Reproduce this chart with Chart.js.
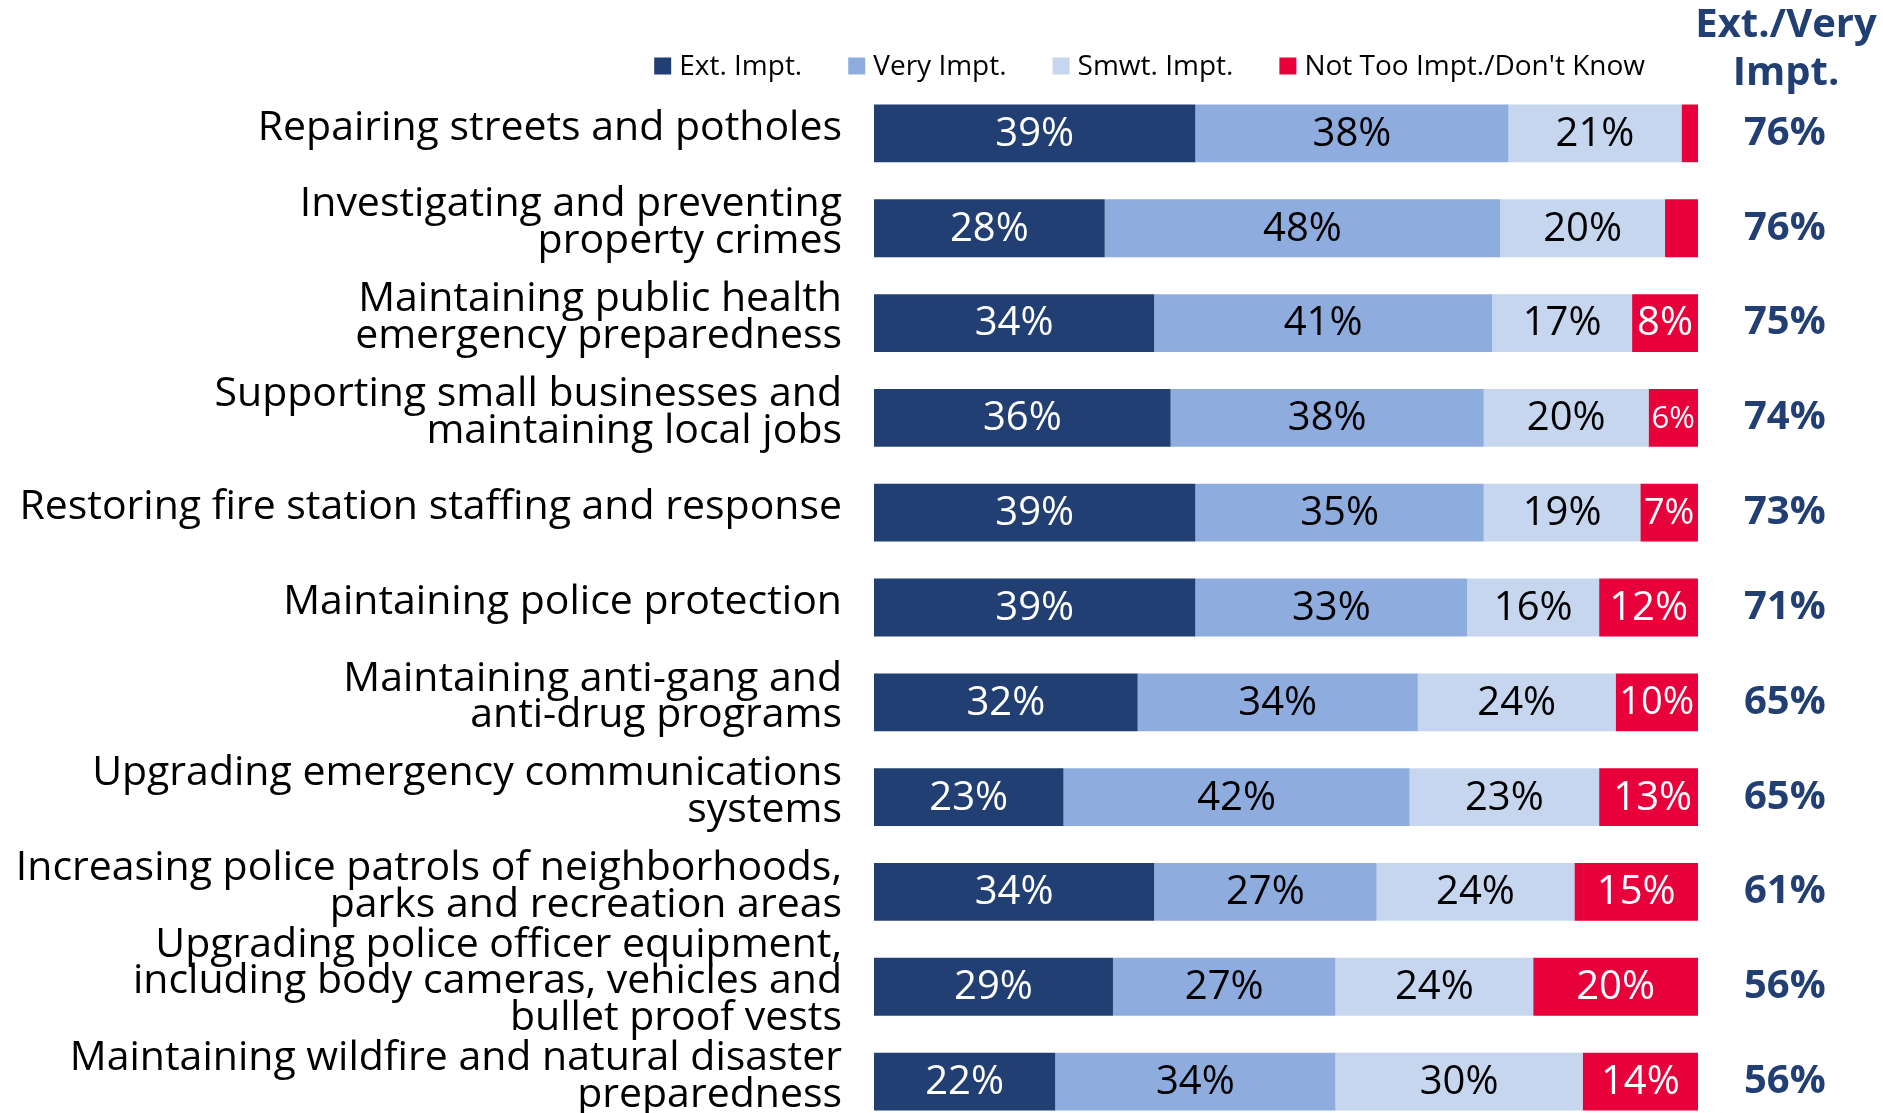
<!DOCTYPE html>
<html>
<head>
<meta charset="utf-8">
<script src="https://cdn.jsdelivr.net/npm/chart.js@4"></script>
<style>
  html, body { margin: 0; padding: 0; background: #fff; overflow: hidden; }
  #chartContainer { position: relative; width: 1883px; height: 1130px; }
</style>
</head>
<body>
<div id="chartContainer"><canvas id="myChart"></canvas></div>
<script>
const categories = [
  ['Repairing streets and potholes'],
  ['Investigating and preventing', 'property crimes'],
  ['Maintaining public health', 'emergency preparedness'],
  ['Supporting small businesses and', 'maintaining local jobs'],
  ['Restoring fire station staffing and response'],
  ['Maintaining police protection'],
  ['Maintaining anti-gang and', 'anti-drug programs'],
  ['Upgrading emergency communications', 'systems'],
  ['Increasing police patrols of neighborhoods,', 'parks and recreation areas'],
  ['Upgrading police officer equipment,', 'including body cameras, vehicles and', 'bullet proof vests'],
  ['Maintaining wildfire and natural disaster', 'preparedness']
];
const seriesNames = ['Ext. Impt.', 'Very Impt.', 'Smwt. Impt.', "Not Too Impt./Don't Know"];
const extImpt = [39, 28, 34, 36, 39, 39, 32, 23, 34, 29, 22];
const veryImpt = [38, 48, 41, 38, 35, 33, 34, 42, 27, 27, 34];
const smwtImpt = [21, 20, 17, 20, 19, 16, 24, 23, 24, 24, 30];
const notTooImpt = [2, 4, 8, 6, 7, 12, 10, 13, 15, 20, 14];
const extVeryTotals = [76, 76, 75, 74, 73, 71, 65, 65, 61, 56, 56];
const totalsHeader = ['Ext./Very', 'Impt.'];

const colors = ['#213F73', '#8FACDF', '#C6D6EF', '#E8003A'];
const labelColors = ['#ffffff', '#000000', '#000000', '#ffffff'];
const FONT = '"Open Sans", "Liberation Sans", sans-serif';

Chart.defaults.font.family = FONT;

const ctx = document.getElementById('myChart');

// percent labels inside the bars, legend and the right-hand header
const overlayPlugin = {
  id: 'overlay',
  afterDatasetsDraw(chart) {
    const c = chart.ctx;
    c.save();
    c.textAlign = 'center';
    c.textBaseline = 'middle';
    chart.data.datasets.forEach((ds, di) => {
      const meta = chart.getDatasetMeta(di);
      meta.data.forEach((bar, i) => {
        const v = ds.data[i];
        if (v < 5) return;
        const text = v + '%';
        const w = Math.abs(bar.x - bar.base);
        let size = 40;
        c.font = size + 'px ' + FONT;
        const tw = c.measureText(text).width;
        if (tw > w - 6) size = Math.floor(size * (w - 6) / tw);
        c.font = size + 'px ' + FONT;
        c.fillStyle = labelColors[di];
        c.fillText(text, (bar.x + bar.base) / 2, bar.y + 1);
      });
    });

    // header over the totals column
    c.fillStyle = colors[0];
    c.font = 'bold 40px ' + FONT;
    c.fillText(totalsHeader[0], 1786, 26);
    c.fillText(totalsHeader[1], 1786, 74);

    // legend, right aligned
    c.font = '28px ' + FONT;
    c.textAlign = 'left';
    const box = 17, gapBox = 8, gapItem = 46;
    let x = 1645;
    const positions = [];
    for (let i = seriesNames.length - 1; i >= 0; i--) {
      const tw = c.measureText(seriesNames[i]).width;
      x -= tw;
      positions[i] = x;
      x -= gapBox + box + gapItem;
    }
    seriesNames.forEach((name, i) => {
      const tx = positions[i];
      c.fillStyle = colors[i];
      c.fillRect(tx - gapBox - box, 66 - box / 2, box, box);
      c.fillStyle = '#000';
      c.fillText(name, tx, 67);
    });
    c.restore();
  }
};

new Chart(ctx, {
  type: 'bar',
  data: {
    labels: categories,
    datasets: [
      { label: seriesNames[0], data: extImpt, backgroundColor: colors[0] },
      { label: seriesNames[1], data: veryImpt, backgroundColor: colors[1] },
      { label: seriesNames[2], data: smwtImpt, backgroundColor: colors[2] },
      { label: seriesNames[3], data: notTooImpt, backgroundColor: colors[3] }
    ]
  },
  options: {
    indexAxis: 'y',
    responsive: true,
    maintainAspectRatio: false,
    animation: false,
    categoryPercentage: 0.61,
    barPercentage: 1,
    layout: { padding: { top: 86, bottom: 1, left: 0, right: 0 } },
    plugins: {
      legend: { display: false },
      tooltip: { enabled: false }
    },
    scales: {
      x: {
        stacked: true,
        min: 0,
        max: 100,
        display: false
      },
      y: {
        stacked: true,
        grid: { display: false, drawTicks: false },
        border: { display: false },
        ticks: {
          color: '#000',
          padding: 32,
          autoSkip: false,
          font: { size: 41, lineHeight: 0.9 }
        },
        afterFit(scale) {
          scale.width = 874;
          scale.paddingTop = 0;
          scale.paddingBottom = 0;
          // labels sit a little above the bar centres in the original
          const base = Object.getPrototypeOf(scale).getPixelForTick;
          scale.getPixelForTick = function (i) { return base.call(this, i) - 5; };
        }
      },
      y2: {
        type: 'category',
        position: 'right',
        offset: true,
        labels: extVeryTotals.map(v => v + '%'),
        grid: { display: false, drawTicks: false },
        border: { display: false },
        ticks: {
          color: colors[0],
          padding: 46,
          autoSkip: false,
          font: { size: 40, weight: 'bold' }
        },
        afterFit(scale) {
          scale.width = 185;
          scale.paddingTop = 0;
          scale.paddingBottom = 0;
        }
      }
    }
  },
  plugins: [overlayPlugin]
});
</script>
</body>
</html>
